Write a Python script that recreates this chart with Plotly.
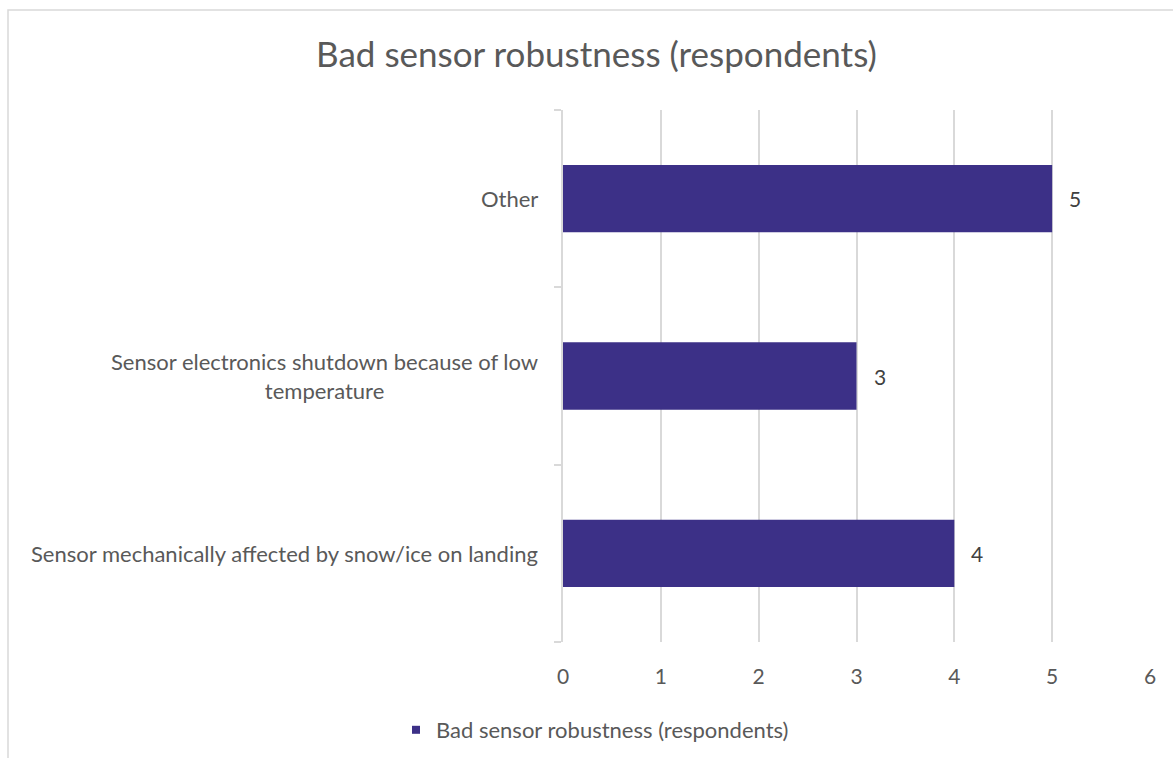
import plotly.graph_objects as go

categories = [
    "Sensor mechanically affected by snow/ice on landing",
    "Sensor electronics shutdown because of low temperature",
    "Other",
]
category_labels = [
    "Sensor mechanically affected by snow/ice on landing",
    "Sensor electronics shutdown because of low<br>temperature",
    "Other",
]
values = [4, 3, 5]
series_name = "Bad sensor robustness (respondents)"
title_text = "Bad sensor robustness (respondents)"

BAR = "#3c3087"
GRID = "#d9d9d9"
TXT = "#595959"
FONT = "Lato"

W, H = 1173, 758
ML, MR, MT, MB = 563, 23, 110, 116
PW = W - ML - MR
PH = H - MT - MB

fig = go.Figure()
fig.add_trace(go.Bar(
    x=values, y=categories, orientation="h",
    marker=dict(color=BAR, line=dict(width=0)),
    width=0.38, showlegend=False, hoverinfo="x+y",
))
fig.add_trace(go.Scatter(
    x=[None], y=[None], mode="markers", name=series_name,
    marker=dict(symbol="square", size=8, color=BAR),
    showlegend=True,
))

annotations = []
for c, lab in zip(categories, category_labels):
    annotations.append(dict(
        x=-0.04, xref="paper", y=c, yref="y", text=lab, showarrow=False,
        xanchor="right", yanchor="middle", align="center",
        font=dict(family=FONT, size=22, color=TXT),
    ))
for c, v in zip(categories, values):
    annotations.append(dict(
        x=v, xref="x", y=c, yref="y", text=str(v), showarrow=False,
        xanchor="left", yanchor="middle", xshift=15,
        font=dict(family=FONT, size=21, color="#404040"),
    ))

fig.update_layout(
    width=W, height=H,
    margin=dict(l=ML, r=MR, t=MT, b=MB, pad=0, autoexpand=False),
    paper_bgcolor="white", plot_bgcolor="white",
    title=dict(text=title_text, x=596.5 / W, xanchor="center",
               y=1 - 55 / H, yanchor="middle",
               font=dict(family=FONT, size=35, color=TXT)),
    xaxis=dict(range=[0, 6], dtick=1, showgrid=True, gridcolor=GRID, gridwidth=1.5,
               zeroline=False, showline=False, ticks="outside", ticklen=16,
               tickcolor="rgba(0,0,0,0)",
               tickfont=dict(family=FONT, size=21, color=TXT)),
    yaxis=dict(type="category", categoryorder="array", categoryarray=categories,
               showgrid=False, showline=True, linecolor=GRID, linewidth=1.5,
               ticks="outside", ticklen=7, tickcolor=GRID, tickwidth=1.5,
               tickson="boundaries", showticklabels=False, zeroline=False),
    bargap=0.62,
    legend=dict(orientation="h", xref="container", yref="container",
                x=396 / W, xanchor="left",
                y=1 - 730 / H, yanchor="middle",
                font=dict(family=FONT, size=22, color=TXT),
                itemwidth=30, bgcolor="rgba(0,0,0,0)"),
    annotations=annotations,
    shapes=[dict(type="rect", xref="paper", yref="paper",
                 x0=(8 - ML) / PW, x1=(1185 - ML) / PW,
                 y0=-(780 - (MT + PH)) / PH, y1=1 + (MT - 10) / PH,
                 line=dict(color=GRID, width=1.5), layer="below")],
)

fig.write_html("out.html")
